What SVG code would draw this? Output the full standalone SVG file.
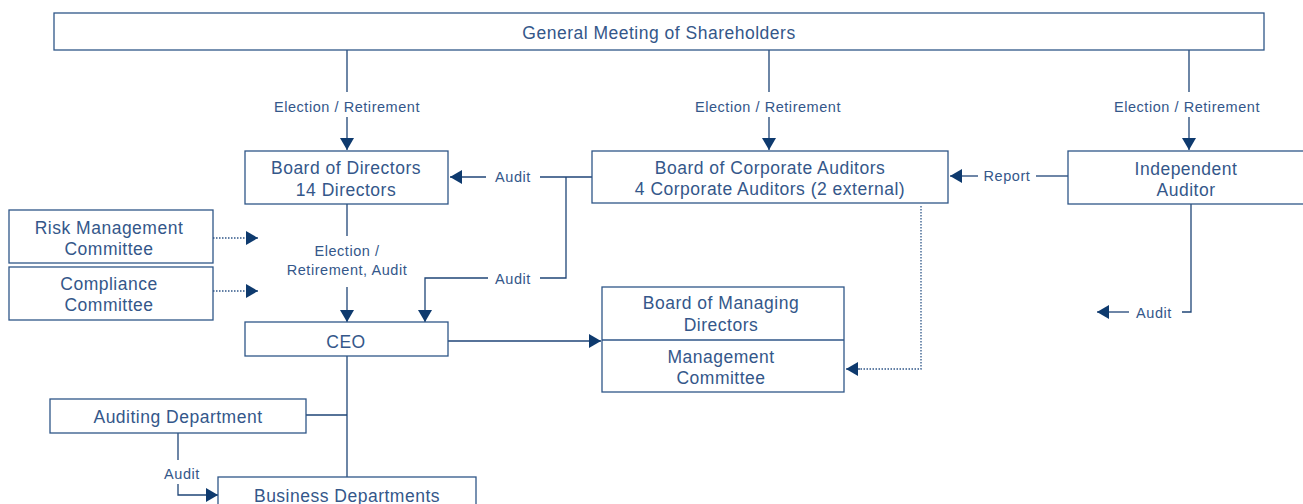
<svg xmlns="http://www.w3.org/2000/svg" width="1303" height="504" viewBox="0 0 1303 504">
  <style>
    .box { fill: #ffffff; stroke: #2f5688; stroke-width: 1.3; }
    .t { font-family: "Liberation Sans", Arial, sans-serif; font-size: 17.5px; letter-spacing: 0.5px; fill: #34578a; text-anchor: middle; }
    .l { font-family: "Liberation Sans", Arial, sans-serif; font-size: 14.5px; letter-spacing: 0.55px; fill: #34578a; text-anchor: middle; }
    .ln { fill: none; stroke: #1f4577; stroke-width: 1.3; }
    .dot { fill: none; stroke: #2f5688; stroke-width: 1.3; stroke-dasharray: 1.5 1.5; }
    .ah { fill: #0e3a6e; }
  </style>
  <defs>
    <marker id="arr" markerWidth="12" markerHeight="14" viewBox="0 0 12 14" refX="12" refY="7" orient="auto" markerUnits="userSpaceOnUse">
      <path class="ah" d="M0,0 L12,7 L0,14 Z"/>
    </marker>
  </defs>

  <g id="connectors">
    <!-- shareholders to boards -->
    <path class="ln" d="M347,50 V92 M347,117 V150" marker-end="url(#arr)"/>
    <path class="ln" d="M769,50 V92 M769,117 V150" marker-end="url(#arr)"/>
    <path class="ln" d="M1189,50 V92 M1189,117 V150" marker-end="url(#arr)"/>
    <text class="l" x="347" y="112">Election / Retirement</text>
    <text class="l" x="768" y="112">Election / Retirement</text>
    <text class="l" x="1187" y="112">Election / Retirement</text>

    <!-- corporate auditors audit -->
    <path class="ln" d="M592,177 H540"/>
    <path class="ln" d="M486,177 H450" marker-end="url(#arr)"/>
    <text class="l" x="513" y="182">Audit</text>
    <path class="ln" d="M566,177 V278 H540"/>
    <text class="l" x="513" y="284">Audit</text>
    <path class="ln" d="M488,278 H425 V322" marker-end="url(#arr)"/>

    <!-- independent auditor report -->
    <path class="ln" d="M1068,176 H1036"/>
    <text class="l" x="1007" y="181">Report</text>
    <path class="ln" d="M978,176 H950" marker-end="url(#arr)"/>

    <!-- independent auditor audit -->
    <path class="ln" d="M1191,204 V312 H1182"/>
    <text class="l" x="1154" y="318">Audit</text>
    <path class="ln" d="M1129,312 H1097" marker-end="url(#arr)"/>

    <!-- board to CEO -->
    <path class="ln" d="M347,204 V236"/>
    <text class="l" x="347" y="256">Election /</text>
    <text class="l" x="347" y="275">Retirement, Audit</text>
    <path class="ln" d="M347,287 V322" marker-end="url(#arr)"/>

    <!-- committees -->
    <path class="dot" d="M213,238 H246"/>
    <path class="ln" d="M246,238 H258" marker-end="url(#arr)" stroke="none"/>
    <path class="dot" d="M213,291 H246"/>
    <path class="ln" d="M246,291 H258" marker-end="url(#arr)" stroke="none"/>

    <!-- CEO to managing directors -->
    <path class="ln" d="M448,341 H601" marker-end="url(#arr)"/>

    <!-- corporate auditors to management committee -->
    <path class="dot" d="M921,206 V369 H860"/>
    <path class="ln" d="M860,369 H846" marker-end="url(#arr)" stroke="none"/>

    <!-- CEO to departments -->
    <path class="ln" d="M347,356 V477 M306,415 H347"/>
    <path class="ln" d="M178,433 V460"/>
    <text class="l" x="182" y="479">Audit</text>
    <path class="ln" d="M178,484 V495 H218" marker-end="url(#arr)"/>
  </g>

  <g id="shareholders">
    <rect class="box" x="54" y="13" width="1210" height="37"/>
    <text class="t" x="659" y="39">General Meeting of Shareholders</text>
  </g>
  <g id="board-of-directors">
    <rect class="box" x="245" y="151" width="203" height="53"/>
    <text class="t" x="346" y="174">Board of Directors</text>
    <text class="t" x="346" y="196">14 Directors</text>
  </g>
  <g id="corporate-auditors">
    <rect class="box" x="592" y="151" width="356" height="52"/>
    <text class="t" x="770" y="174">Board of Corporate Auditors</text>
    <text class="t" x="770" y="195">4 Corporate Auditors (2 external)</text>
  </g>
  <g id="independent-auditor">
    <rect class="box" x="1068" y="151" width="240" height="53"/>
    <text class="t" x="1186" y="175">Independent</text>
    <text class="t" x="1186" y="196">Auditor</text>
  </g>
  <g id="risk-committee">
    <rect class="box" x="9" y="210" width="204" height="53"/>
    <text class="t" x="109" y="234">Risk Management</text>
    <text class="t" x="109" y="255">Committee</text>
  </g>
  <g id="compliance-committee">
    <rect class="box" x="9" y="267" width="204" height="53"/>
    <text class="t" x="109" y="290">Compliance</text>
    <text class="t" x="109" y="311">Committee</text>
  </g>
  <g id="ceo">
    <rect class="box" x="245" y="322" width="203" height="34"/>
    <text class="t" x="346" y="348">CEO</text>
  </g>
  <g id="managing-directors">
    <rect class="box" x="602" y="287" width="242" height="105"/>
    <path class="box" d="M602,340 H844"/>
    <text class="t" x="721" y="309">Board of Managing</text>
    <text class="t" x="721" y="331">Directors</text>
    <text class="t" x="721" y="363">Management</text>
    <text class="t" x="721" y="384">Committee</text>
  </g>
  <g id="auditing-department">
    <rect class="box" x="50" y="399" width="256" height="34"/>
    <text class="t" x="178" y="423">Auditing Department</text>
  </g>
  <g id="business-departments">
    <rect class="box" x="218" y="477" width="258" height="40"/>
    <text class="t" x="347" y="502">Business Departments</text>
  </g>
</svg>
